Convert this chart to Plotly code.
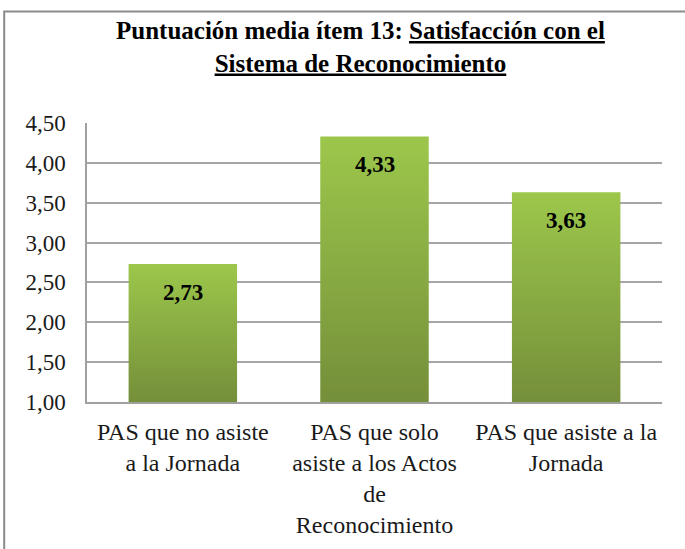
import plotly.graph_objects as go

categories = ["PAS que no asiste<br>a la Jornada",
              "PAS que solo<br>asiste a los Actos<br>de<br>Reconocimiento",
              "PAS que asiste a la<br>Jornada"]
values = [2.73, 4.33, 3.63]
value_labels = ["2,73", "4,33", "3,63"]
tick_vals = [1.0, 1.5, 2.0, 2.5, 3.0, 3.5, 4.0, 4.5]

AXIS_MIN = 1.0
HALF_W = 0.283
SERIF = "Liberation Serif"

fig = go.Figure()
for i, v in enumerate(values):
    fig.add_trace(go.Scatter(
        x=[i - HALF_W, i + HALF_W, i + HALF_W, i - HALF_W, i - HALF_W],
        y=[AXIS_MIN, AXIS_MIN, v, v, AXIS_MIN],
        mode="lines", line=dict(width=0), fill="toself",
        fillgradient=dict(type="vertical",
                          colorscale=[[0, "#758F3A"], [1, "#9CC74B"]]),
        hoverinfo="skip", showlegend=False))
    fig.add_annotation(x=i, y=v, text="<b>%s</b>" % value_labels[i],
                       showarrow=False, yanchor="middle", yshift=-28,
                       font=dict(family=SERIF, size=23, color="#000000"))

fig.add_annotation(
    xref="paper", yref="paper", x=0.475, y=1.0, yanchor="bottom", yshift=44,
    text="<b>Puntuación media ítem 13: <u>Satisfacción con el</u><br><u>Sistema de Reconocimiento</u></b>",
    showarrow=False, font=dict(family=SERIF, size=25, color="#000000"))

fig.add_shape(type="rect", xref="paper", yref="paper",
              x0=-0.144, x1=1.2, y0=-1.0, y1=1.4,
              line=dict(color="#8A8A8A", width=2), layer="below")

fig.update_layout(
    width=685, height=549,
    margin=dict(l=87, r=23, t=123, b=147),
    paper_bgcolor="white", plot_bgcolor="white",
    separators=",.",
    showlegend=False,
    font=dict(family=SERIF),
    xaxis=dict(range=[-0.5, 2.5], tickmode="array", tickvals=[0, 1, 2],
               ticktext=categories, showgrid=False, zeroline=False,
               showline=True, linecolor="#A0A0A0", linewidth=1.5,
               ticks="", ticklabelstandoff=7,
               tickfont=dict(family=SERIF, size=24, color="#1a1a1a")),
    yaxis=dict(range=[1.0, 4.5], tickmode="array", tickvals=tick_vals,
               tickformat=".2f", showgrid=True, gridcolor="#A6A6A6",
               gridwidth=1.5, zeroline=False, showline=True,
               linecolor="#A0A0A0", linewidth=1.5, ticks="",
               ticklabelstandoff=15,
               tickfont=dict(family=SERIF, size=23, color="#1a1a1a")),
)

fig.write_html("out.html", config={"displayModeBar": False},
               post_script="document.body.style.margin='0';")
